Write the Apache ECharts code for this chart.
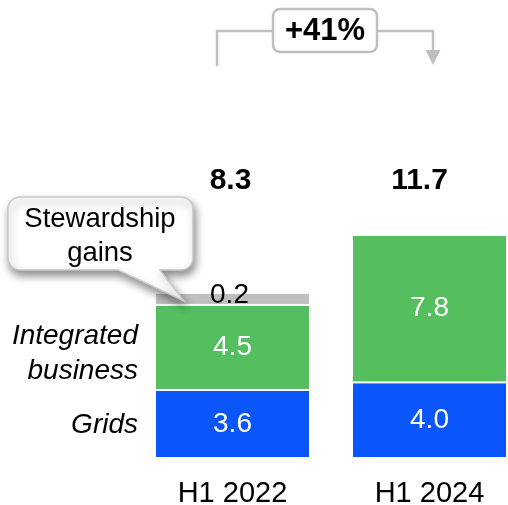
<!DOCTYPE html>
<html><head><meta charset="utf-8">
<script src="https://cdn.jsdelivr.net/npm/echarts@6/dist/echarts.min.js"></script>
<style>html,body{margin:0;padding:0;background:#fff}#c{width:508px;height:505px}</style>
</head><body><div id="c"></div>
<script>
const categories = ['H1 2022', 'H1 2024'];
const grids = [3.6, 4.0];
const integrated = [4.5, 7.8];
const stewardship = [0.2, null];
const totals = [8.3, 11.7];
const growthLabel = '+41%';
const calloutText = 'Stewardship\ngains';

const FONT = '"Liberation Sans", Arial, sans-serif';
const BLUE = '#0A56FB', GREEN = '#55BE5F', GRAY = '#BFBFBF';
const TOTAL_LEVEL = 14.65;
const totalOffsets = [[-2, 0], [-10, 0]];

function calloutPoints(x0, y0, x1, y1, r, tailL, tailR, tip) {
  const pts = [];
  const arc = (cx, cy, a0, a1) => {
    for (let k = 0; k <= 8; k++) {
      const a = a0 + (a1 - a0) * k / 8;
      pts.push([cx + r * Math.cos(a), cy + r * Math.sin(a)]);
    }
  };
  arc(x0 + r, y0 + r, Math.PI, 1.5 * Math.PI);
  arc(x1 - r, y0 + r, 1.5 * Math.PI, 2 * Math.PI);
  arc(x1 - r, y1 - r, 0, 0.5 * Math.PI);
  pts.push([tailR, y1], tip, [tailL, y1]);
  arc(x0 + r, y1 - r, 0.5 * Math.PI, Math.PI);
  return pts;
}

const chart = echarts.init(document.getElementById('c'), null, {renderer: 'canvas'});
const segLabel = (color) => ({show: true, position: 'inside', color: color, fontSize: 28, fontFamily: FONT,
  textBorderWidth: 0, formatter: p => p.value == null ? '' : Number(p.value).toFixed(1)});
const totalLabel = {show: true, position: 'inside', color: '#000', fontSize: 30, fontWeight: 'bold', fontFamily: FONT,
  textBorderWidth: 0, opacity: 1, formatter: p => totals[p.dataIndex].toFixed(1)};
const option = {
  animation: false,
  backgroundColor: '#fff',
  grid: {left: 134, width: 394, bottom: 47, height: 283.5, outerBoundsMode: 'none', containLabel: false},
  xAxis: {type: 'category', data: categories,
    axisLine: {show: false}, axisTick: {show: false}, splitLine: {show: false},
    axisLabel: {color: '#000', fontSize: 29, fontFamily: FONT, margin: 21}},
  yAxis: {type: 'value', min: 0, max: 15, show: false, splitLine: {show: false}},
  series: [
    {name: 'Grids', type: 'bar', stack: 'a', barWidth: 155, data: grids,
      itemStyle: {color: BLUE, borderColor: '#fff', borderWidth: 1}, label: segLabel('#fff')},
    {name: 'Integrated business', type: 'bar', stack: 'a', data: integrated,
      itemStyle: {color: GREEN, borderColor: '#fff', borderWidth: 1}, label: segLabel('#fff')},
    {name: 'Stewardship gains', type: 'bar', stack: 'a', data: stewardship, barMinHeight: 12,
      itemStyle: {color: GRAY, borderColor: '#fff', borderWidth: 1},
      label: Object.assign(segLabel('#000'), {offset: [-3, -4]})},
    {name: 'Total', type: 'scatter', symbolSize: 0, clip: false, itemStyle: {color: '#000', opacity: 1},
      data: totals.map((t, i) => ({value: [i, TOTAL_LEVEL],
        label: Object.assign({}, totalLabel, {offset: totalOffsets[i]})})),
      label: totalLabel}
  ],
  graphic: [
    {type: 'polyline', shape: {points: [[217, 66], [217, 31], [273, 31]]}, style: {stroke: GRAY, lineWidth: 2.5, fill: null}},
    {type: 'polyline', shape: {points: [[377, 31], [433, 31], [433, 52]]}, style: {stroke: GRAY, lineWidth: 2.5, fill: null}},
    {type: 'polygon', shape: {points: [[425.5, 50], [440.5, 50], [433, 65]]}, style: {fill: GRAY}},
    {type: 'rect', shape: {x: 273, y: 9, width: 104, height: 43, r: 7}, style: {fill: '#fff', stroke: GRAY, lineWidth: 2.5}},
    {type: 'text', x: 325, y: 31, style: {text: growthLabel, font: 'bold 31px ' + FONT, fill: '#000', align: 'center', verticalAlign: 'middle'}},
    {type: 'polygon', z: 100, shape: {points: calloutPoints(8, 197, 193, 270, 12, 118, 160, [184, 301])},
      style: {fill: '#fff', stroke: '#C8C8C8', lineWidth: 1.5, shadowBlur: 9, shadowOffsetX: 2, shadowOffsetY: 5, shadowColor: 'rgba(0,0,0,0.45)'}},
    {type: 'text', z: 101, x: 100, y: 236, style: {text: calloutText, font: '27.5px ' + FONT, lineHeight: 34, fill: '#000', align: 'center', verticalAlign: 'middle'}},
    {type: 'text', x: 138, y: 354, style: {text: 'Integrated\nbusiness', font: 'italic 28px ' + FONT, lineHeight: 35, fill: '#000', align: 'right', verticalAlign: 'middle'}},
    {type: 'text', x: 138, y: 425, style: {text: 'Grids', font: 'italic 28px ' + FONT, fill: '#000', align: 'right', verticalAlign: 'middle'}}
  ]
};
chart.setOption(option);
</script></body></html>
